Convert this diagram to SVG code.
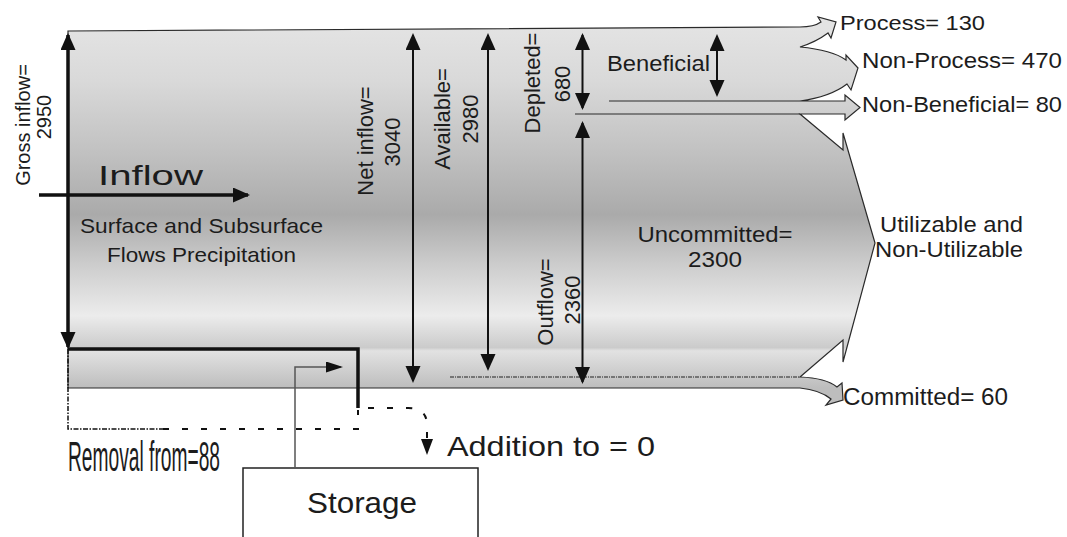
<svg xmlns="http://www.w3.org/2000/svg" width="1067" height="537" viewBox="0 0 1067 537">
<defs>
<style>
.t{font-family:"Liberation Sans",Arial,sans-serif;fill:#1c1c1c}
.outline{stroke:#2a2a2a;stroke-width:1.2;stroke-linejoin:miter}
.arr{stroke:#111;stroke-width:2;fill:none}
.thick{stroke:#111;stroke-width:3.5;fill:none}
.thin{stroke:#2a2a2a;stroke-width:1.1;fill:none}
.dash{stroke:#111;stroke-width:2;fill:none;stroke-dasharray:6,13}
.dashdot{stroke:#111;stroke-width:1.5;fill:none;stroke-dasharray:5,1.5,1.5,1.5}
</style>
<linearGradient id="g" gradientUnits="userSpaceOnUse" x1="0" y1="27" x2="0" y2="388">
<stop offset="0" stop-color="#e3e3e3"/>
<stop offset="0.15" stop-color="#d9d9d9"/>
<stop offset="0.34" stop-color="#c2c2c2"/>
<stop offset="0.52" stop-color="#aaaaaa"/>
<stop offset="0.66" stop-color="#cdcdcd"/>
<stop offset="0.8" stop-color="#ececec"/>
<stop offset="0.888" stop-color="#cbcbcb"/>
<stop offset="0.897" stop-color="#e2e2e2"/>
<stop offset="1" stop-color="#bdbdbd"/>
</linearGradient>
<marker id="ah" markerUnits="userSpaceOnUse" markerWidth="18" markerHeight="16" refX="15" refY="7.5" orient="auto-start-reverse">
<path d="M0,0 L17,7.5 L0,15 Z" fill="#111"/>
</marker>
<marker id="as" markerUnits="userSpaceOnUse" markerWidth="18" markerHeight="12" refX="15" refY="5.5" orient="auto">
<path d="M0,0 L17,5.5 L0,11 Z" fill="#111"/>
</marker>
<marker id="ad" markerUnits="userSpaceOnUse" markerWidth="17" markerHeight="13" refX="0" refY="6" orient="auto">
<path d="M0,0 L16,6 L0,12 Z" fill="#111"/>
</marker>
</defs>

<g id="water-body">
<path class="outline" fill="url(#g)" d="M68,31 L800,27 Q814,27 821,22 L818,17 L836,22 L831,38 L828,33 Q816,42 800,47 Q832,50 846,60 L846,55 L858,68 L851,90 L847,84 Q830,97 800,101 L845,101 L845,95 L860,107.5 L845,120 L845,114 L800,114 L843,150 L843,133 L875,243 L843,362 L843,340 L800,377 Q826,378 837,387 L842,383 L843,400 L826,405 L831,399 Q820,390 800,388 L68,388 Z"/>
<line class="thin" x1="609" y1="101" x2="800" y2="101"/>
<line class="thin" x1="575" y1="114" x2="800" y2="114"/>
<line stroke="#222" stroke-width="1.2" stroke-dasharray="4,1,1,1" x1="450" y1="377" x2="800" y2="377"/>
</g>

<g id="storage">
<rect x="243" y="468" width="235" height="80" fill="#fff" stroke="#222" stroke-width="1.5"/>
<text class="t" x="362" y="513" font-size="29" text-anchor="middle" textLength="110" lengthAdjust="spacingAndGlyphs">Storage</text>
</g>

<g id="connectors">
<line class="thick" x1="68" y1="35" x2="68" y2="347" marker-start="url(#ah)" marker-end="url(#ah)"/>
<line class="thick" x1="39" y1="195" x2="248" y2="195" stroke-width="3" marker-end="url(#ah)"/>
<line class="arr" x1="413" y1="35" x2="413" y2="381" marker-start="url(#ah)" marker-end="url(#ah)"/>
<line class="arr" x1="488" y1="35" x2="488" y2="369" marker-start="url(#ah)" marker-end="url(#ah)"/>
<line class="arr" x1="582.5" y1="35" x2="582.5" y2="108" marker-start="url(#ah)" marker-end="url(#ah)"/>
<line class="arr" x1="582.5" y1="123" x2="582.5" y2="382" marker-start="url(#ah)" marker-end="url(#ah)"/>
<line class="arr" x1="717" y1="36" x2="717" y2="95" marker-start="url(#ah)" marker-end="url(#ah)"/>
<path d="M68,349 H358 V408" class="thick" stroke-width="3.2"/>
<path d="M68,349 V429 H163" class="dashdot"/>
<path d="M163,429 H358 V410" class="dash"/>
<path d="M368,408 H408 Q427,408 427,425 L427,439" class="dash" marker-end="url(#ad)"/>
<path d="M295,468 V367 H341" stroke="#555" stroke-width="1.5" fill="none" marker-end="url(#as)"/>
</g>

<g id="labels">
<text class="t" font-size="20" text-anchor="middle" transform="translate(30,125) rotate(-90)">Gross inflow=</text>
<text class="t" font-size="20" text-anchor="middle" transform="translate(51,117) rotate(-90)">2950</text>
<text class="t" x="98" y="185" font-size="28" textLength="105" lengthAdjust="spacingAndGlyphs">Inflow</text>
<text class="t" x="201.5" y="233" font-size="21" text-anchor="middle" textLength="243" lengthAdjust="spacingAndGlyphs">Surface and Subsurface</text>
<text class="t" x="201.5" y="262" font-size="21" text-anchor="middle" textLength="189" lengthAdjust="spacingAndGlyphs">Flows Precipitation</text>
<text class="t" font-size="22" text-anchor="middle" transform="translate(373,141) rotate(-90)">Net inflow=</text>
<text class="t" font-size="22" text-anchor="middle" transform="translate(400,142) rotate(-90)">3040</text>
<text class="t" font-size="22" text-anchor="middle" transform="translate(450,119) rotate(-90)">Available=</text>
<text class="t" font-size="22" text-anchor="middle" transform="translate(478,119) rotate(-90)">2980</text>
<text class="t" font-size="22" text-anchor="middle" transform="translate(540,83) rotate(-90)">Depleted=</text>
<text class="t" font-size="22" text-anchor="middle" transform="translate(570,84) rotate(-90)">680</text>
<text class="t" font-size="22" text-anchor="middle" transform="translate(553,302) rotate(-90)">Outflow=</text>
<text class="t" font-size="22" text-anchor="middle" transform="translate(580,300) rotate(-90)">2360</text>
<text class="t" x="607" y="71" font-size="22" textLength="103" lengthAdjust="spacingAndGlyphs">Beneficial</text>
<text class="t" x="715" y="242" font-size="22" text-anchor="middle" textLength="155" lengthAdjust="spacingAndGlyphs">Uncommitted=</text>
<text class="t" x="715" y="267" font-size="22" text-anchor="middle" textLength="54" lengthAdjust="spacingAndGlyphs">2300</text>
<text class="t" x="840" y="30" font-size="21" textLength="145" lengthAdjust="spacingAndGlyphs">Process= 130</text>
<text class="t" x="862" y="68" font-size="22" textLength="200" lengthAdjust="spacingAndGlyphs">Non-Process= 470</text>
<text class="t" x="862" y="112" font-size="22" textLength="200" lengthAdjust="spacingAndGlyphs">Non-Beneficial= 80</text>
<text class="t" x="880" y="232" font-size="22" textLength="143" lengthAdjust="spacingAndGlyphs">Utilizable and</text>
<text class="t" x="875" y="257" font-size="22" textLength="148" lengthAdjust="spacingAndGlyphs">Non-Utilizable</text>
<text class="t" x="843" y="405" font-size="23" textLength="165" lengthAdjust="spacingAndGlyphs">Committed= 60</text>
<text class="t" x="447" y="456" font-size="28" textLength="208" lengthAdjust="spacingAndGlyphs">Addition to = 0</text>
<text class="t" x="68" y="471" font-size="42" textLength="152" lengthAdjust="spacingAndGlyphs">Removal from=88</text>
</g>
</svg>
